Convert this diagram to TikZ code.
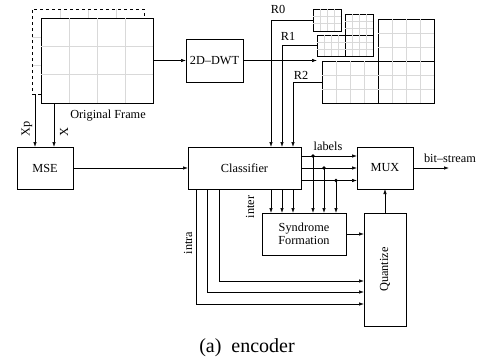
\documentclass[tikz,border=0pt]{standalone}
\usepackage{fontspec}
\setmainfont{Liberation Serif}
\usepackage{tikz}
\usetikzlibrary{calc,arrows.meta}

\begin{document}
\begin{tikzpicture}[
	x=1pt, y=-1pt, >={Latex[length=5pt,width=3.5pt]},
	every node/.style={font=\fontsize{12.3}{13}\selectfont},
	blk/.style={draw, line width=0.8pt, inner sep=0pt, outer sep=0pt},
	band/.style={draw, line width=0.8pt, inner sep=0pt, outer sep=0pt},
	gridln/.style={gray!30, line width=0.7pt},
	conn/.style={->, line width=0.7pt},
	wire/.style={line width=0.7pt},
	prevfr/.style={dashed, line width=0.7pt}
	]
	% 画布大小
	\useasboundingbox (0,0) rectangle (480,362);
	
	% 前一帧（虚线）与隐藏网格
	\foreach \gx in {60,88,116} \draw[gridln] (\gx,9) -- (\gx,18);
	\foreach \gy in {37.3,65.7} \draw[gridln] (32,\gy) -- (41,\gy);
	\draw[prevfr] (41,94) -- (32,94) -- (32,9) -- (144,9) -- (144,18);
	\coordinate (xp) at (35,94);
	
	% 原始帧
	\node[blk, minimum width=112, minimum height=85] (frame) at (97,60.5) {};
	\foreach \i in {1,2,3}
		\draw[gridln] ($(frame.north west)!\i/4!(frame.north east)$) -- ($(frame.south west)!\i/4!(frame.south east)$);
	\foreach \j in {1,2}
		\draw[gridln] ($(frame.north west)!\j/3!(frame.south west)$) -- ($(frame.north east)!\j/3!(frame.south east)$);
	\node (lframe) at (108,116) {Original Frame};
	
	% 各个模块
	\node[blk, minimum width=57, minimum height=43] (dwt) at (214.5,60.5) {2D--DWT};
	\node[blk, minimum width=56, minimum height=42] (mse) at (45,168) {MSE};
	\node[blk, minimum width=113, minimum height=42] (cls) at (244.5,168) {Classifier};
	\node[blk, minimum width=56, minimum height=42] (mux) at (385,168) {MUX};
	\node[blk, minimum width=84, minimum height=42, align=center] (syn) at (304,234) {Syndrome\\Formation};
	\node[blk, minimum width=42, minimum height=113] (quant) at (385,269.5) {};
	\node[rotate=90] (lquant) at (quant) {Quantize};
	
	% 小波子带
	\foreach \nm/\cx/\cy/\w/\h in {sb3/327/20/28/22, sb2h/359/24.5/28/21, sb2v/331/45.5/28/21,
		sb2d/359/45.5/28/21, sb1h/406/40/56/42, sb1v/350/82/56/42, sb1d/406/82/56/42}{
		\node[band, minimum width=\w, minimum height=\h] (\nm) at (\cx,\cy) {};
		\foreach \i in {1,2,3}
			\draw[gridln] ($(\nm.north west)!\i/4!(\nm.north east)$) -- ($(\nm.south west)!\i/4!(\nm.south east)$);
		\foreach \j in {1,2}
			\draw[gridln] ($(\nm.north west)!\j/3!(\nm.south west)$) -- ($(\nm.north east)!\j/3!(\nm.south east)$);
	}
	
	% 帧 -> DWT -> 子带
	\draw[conn] (frame.east) -- (dwt.west);
	\draw[conn, shorten >=5pt] (dwt.east) -- (dwt.east -| sb1v.west);
	
	% R0, R1, R2
	\draw[conn] (sb3.west) -| ([xshift=26.5]cls.north);
	\draw[conn] (sb2v.west) -| ([xshift=37.5]cls.north);
	\draw[conn] (sb1v.west) -| ([xshift=48.5]cls.north);
	\node (lr0) at (278,9.5) {R0};
	\node (lr1) at (288,36) {R1};
	\node (lr2) at (301,75) {R2};
	
	% Xp, X -> MSE -> Classifier
	\draw[conn] (xp) -- (xp |- mse.north);
	\draw[conn] ([xshift=-43]frame.south) -- ([xshift=-43]frame.south |- mse.north);
	\node[rotate=90] (lxp) at (27,129) {Xp};
	\node[rotate=90] (lx) at (64,132) {X};
	\draw[conn] (mse) -- (cls);
	
	% Classifier -> MUX（labels）
	\draw[conn] ([yshift=12]cls.east) -- ([yshift=12]mux.west);
	\draw[conn] (cls.east) -- (mux.west);
	\draw[conn] ([yshift=-12.5]cls.east) -- ([yshift=-12.5]mux.west);
	\node (llab) at (328,146) {labels};
	\coordinate (d1) at (313,156);
	\coordinate (d2) at (324,168);
	\coordinate (d3) at (336,180.5);
	\foreach \d in {d1,d2,d3}{
		\fill (\d) circle (1.8);
		\draw[conn] (\d) -- (\d |- syn.north);
	}
	
	% inter
	\foreach \s in {26.5,37.5,48.5}
		\draw[conn] ([xshift=\s]cls.south) -- ([xshift=\s]cls.south |- syn.north);
	\node[rotate=90] (linter) at (250,207) {inter};
	
	% intra
	\draw[conn] ([xshift=-48.5]cls.south) |- ([yshift=-34.5]quant.west);
	\draw[conn] ([xshift=-37.5]cls.south) |- ([yshift=-22.5]quant.west);
	\draw[conn] ([xshift=-25.5]cls.south) |- ([yshift=-11.5]quant.west);
	\node[rotate=90] (lintra) at (188,243) {intra};
	
	% Syndrome -> Quantize -> MUX -> 输出
	\draw[conn] (syn.east) -- (syn.east -| quant.west);
	\draw[conn] (quant.north) -- (mux.south);
	\coordinate (bs) at (449,168);
	\draw[conn] (mux.east) -- (bs);
	\node (lbs) at (450,158) {bit--stream};
	
	% 标题
	\node[font=\fontsize{20}{24}\selectfont] (cap) at (247,348) {(a)\enspace encoder};
	
\end{tikzpicture}
\end{document}
